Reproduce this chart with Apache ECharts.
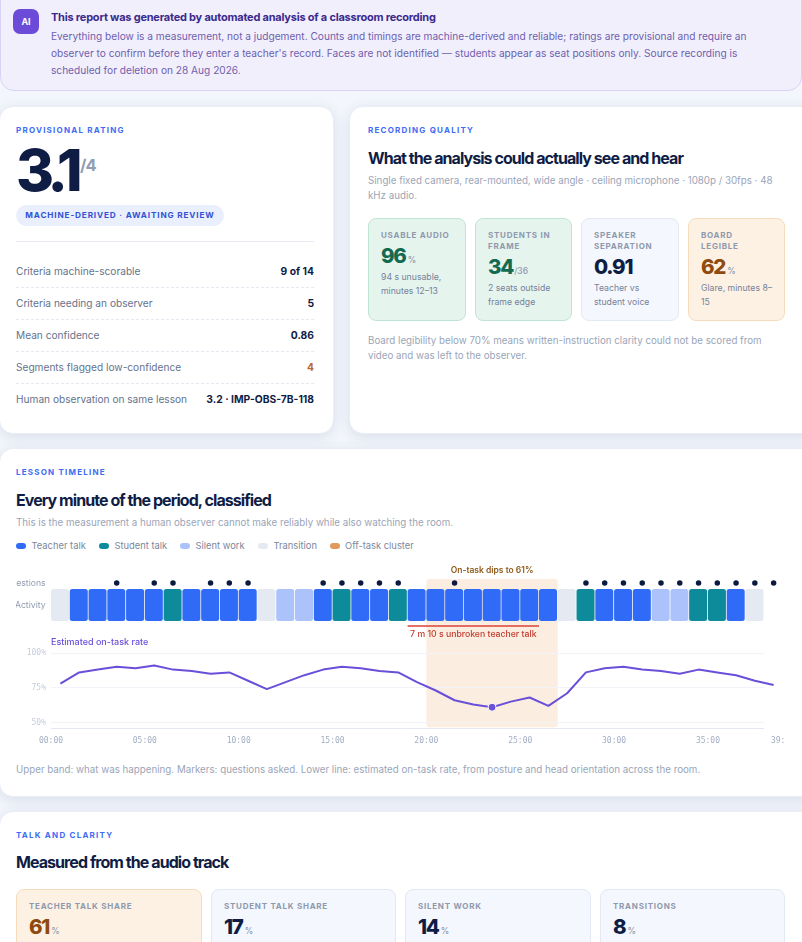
<!DOCTYPE html>
<html><head><meta charset="utf-8">
<script src="https://cdn.jsdelivr.net/npm/echarts@6/dist/echarts.min.js"></script>
<style>
html,body{margin:0;padding:0;width:802px;height:942px;overflow:hidden;background:#f3f6fc;font-family:Inter,"Noto Sans",sans-serif;color:#0f1d45}
.a{position:absolute;white-space:nowrap}
.card{position:absolute;background:#fff;border-radius:14px;box-shadow:0 3px 14px rgba(30,50,100,.12);border:1px solid #e9edf5;box-sizing:border-box}
.eyebrow{position:absolute;white-space:nowrap;font-size:8px;line-height:12px;font-weight:700;letter-spacing:1.22px;color:#3d6cf5}
.h2{position:absolute;white-space:nowrap;font-size:16px;line-height:22px;font-weight:700;letter-spacing:-.94px;color:#0f1d45}
.sub{position:absolute;font-size:9.75px;line-height:15px;color:#9aa5b8}
.row{position:absolute;left:16px;width:298px;display:flex;justify-content:space-between;font-size:10.15px;line-height:16px;color:#66738c}
.row b{color:#0f1d45;font-weight:700;font-size:10.3px}
.dash{position:absolute;left:16px;width:298px;border-top:1px dashed #e5e8f0}
.tile{position:absolute;box-sizing:border-box;border-radius:8px;border:1px solid #e3e8f5;background:#f4f7fd}
.tile.g{background:#e6f4ee;border-color:#bfe6d4}
.tile.o{background:#fdf1e4;border-color:#f6dcbc}
.tl{position:absolute;left:12px;font-size:8px;line-height:11px;font-weight:700;letter-spacing:.75px;color:#8e99ad;white-space:nowrap}
.tn{position:absolute;left:12px;white-space:nowrap;font-size:20.5px;line-height:24px;font-weight:800;letter-spacing:-1.2px;color:#0f1d45}
.tn small{font-size:8.5px;font-weight:500;color:#8e99ad;margin-left:2px;letter-spacing:0}
.ts{position:absolute;left:12px;right:6px;font-size:8.7px;line-height:14px;color:#75829a}
.lg{position:absolute;top:540px;font-size:9.35px;line-height:12px;color:#7b879d;white-space:nowrap}
.lg i{position:absolute;left:-15.5px;top:3px;width:10px;height:6px;border-radius:3px}
</style></head><body>

<div style="position:absolute;left:0;top:-20px;width:802px;height:111px;background:#f2effd;border:1px solid #d9d2f7;box-sizing:border-box;border-radius:0 0 14px 14px"></div>
<div class="a" style="left:13px;top:9px;width:26px;height:25px;border-radius:7px;background:#6c4bd8;color:#fff;font-size:9px;font-weight:700;line-height:25px;text-align:center">AI</div>
<div class="a" style="left:51px;top:10px;font-size:11px;line-height:14px;font-weight:700;letter-spacing:-.22px;color:#3a2a8c">This report was generated by automated analysis of a classroom recording</div>
<div class="a" style="left:51px;top:28.3px;font-size:10.13px;line-height:17px;color:#6e5fae">Everything below is a measurement, not a judgement. Counts and timings are machine-derived and reliable; ratings are provisional and require an<br>observer to confirm before they enter a teacher's record. Faces are not identified — students appear as seat positions only. Source recording is<br>scheduled for deletion on 28 Aug 2026.</div>

<div class="card" style="left:-1px;top:106px;width:335px;height:328px"></div>
<div class="eyebrow" style="left:16px;top:124px">PROVISIONAL RATING</div>
<div class="a" style="left:16px;top:135px;font-size:58px;line-height:70px;font-weight:800;letter-spacing:-5.5px;color:#0f1d45">3.1</div>
<div class="a" style="left:80px;top:153px;font-size:16.5px;line-height:24px;font-weight:700;letter-spacing:-1px;color:#8f9db5">/4</div>
<div class="a" style="left:16px;top:205px;width:208px;height:21px;border-radius:11px;background:#e9effd;color:#2f52d6;font-size:8.2px;font-weight:700;letter-spacing:.85px;line-height:21px;text-align:center">MACHINE-DERIVED · AWAITING REVIEW</div>
<div style="position:absolute;left:16px;width:298px;top:241px;border-top:1px solid #e8ebf3"></div>
<div class="row" style="top:263px"><span>Criteria machine-scorable</span><b>9 of 14</b></div>
<div class="dash" style="top:287px"></div>
<div class="row" style="top:295px"><span>Criteria needing an observer</span><b>5</b></div>
<div class="dash" style="top:319px"></div>
<div class="row" style="top:327px"><span>Mean confidence</span><b>0.86</b></div>
<div class="dash" style="top:351px"></div>
<div class="row" style="top:359px"><span>Segments flagged low-confidence</span><b style="color:#b9682a">4</b></div>
<div class="dash" style="top:383px"></div>
<div class="row" style="top:391px"><span>Human observation on same lesson</span><b>3.2 · IMP-OBS-7B-118</b></div>

<div class="card" style="left:348.5px;top:106px;width:470px;height:328px"></div>
<div class="eyebrow" style="left:368px;top:124px">RECORDING QUALITY</div>
<div class="h2" style="left:368px;top:146.5px">What the analysis could actually see and hear</div>
<div class="sub" style="left:368px;top:173px;width:417px">Single fixed camera, rear-mounted, wide angle · ceiling microphone · 1080p / 30fps · 48 kHz audio.</div>

<div class="tile g" style="left:368px;top:218px;width:98px;height:103px">
 <div class="tl" style="top:11px">USABLE AUDIO</div>
 <div class="tn" style="top:24.5px;color:#136a50">96<small>%</small></div>
 <div class="ts" style="top:51px">94 s unusable,<br>minutes 12–13</div>
</div>
<div class="tile g" style="left:475px;top:218px;width:97px;height:103px">
 <div class="tl" style="top:11px">STUDENTS IN<br>FRAME</div>
 <div class="tn" style="top:35.5px;color:#136a50">34<small style="margin-left:1px">/36</small></div>
 <div class="ts" style="top:62px">2 seats outside<br>frame edge</div>
</div>
<div class="tile" style="left:581px;top:218px;width:98px;height:103px">
 <div class="tl" style="top:11px">SPEAKER<br>SEPARATION</div>
 <div class="tn" style="top:35.5px">0.91</div>
 <div class="ts" style="top:62px">Teacher vs<br>student voice</div>
</div>
<div class="tile o" style="left:688px;top:218px;width:97px;height:103px">
 <div class="tl" style="top:11px">BOARD<br>LEGIBLE</div>
 <div class="tn" style="top:35.5px;color:#8f4a10">62<small>%</small></div>
 <div class="ts" style="top:62px">Glare, minutes 8–<br>15</div>
</div>
<div class="sub" style="left:368px;top:333px;width:417px">Board legibility below 70% means written-instruction clarity could not be scored from video and was left to the observer.</div>

<div class="card" style="left:-1px;top:448px;width:820px;height:349px"></div>
<div class="eyebrow" style="left:16px;top:466px">LESSON TIMELINE</div>
<div class="h2" style="left:16px;top:488.5px">Every minute of the period, classified</div>
<div class="sub" style="left:16px;top:515px;white-space:nowrap">This is the measurement a human observer cannot make reliably while also watching the room.</div>
<div class="lg" style="left:31.5px"><i style="background:#2f6bf6"></i>Teacher talk</div>
<div class="lg" style="left:114.5px"><i style="background:#0e8b9b"></i>Student talk</div>
<div class="lg" style="left:195.5px"><i style="background:#abc3fa"></i>Silent work</div>
<div class="lg" style="left:273.5px"><i style="background:#e5e9f2"></i>Transition</div>
<div class="lg" style="left:345px"><i style="background:#e09a5c"></i>Off-task cluster</div>

<div id="chart" style="position:absolute;left:16px;top:560px;width:769px;height:195px"></div>
<div class="sub" style="left:16px;top:762px;white-space:nowrap">Upper band: what was happening. Markers: questions asked. Lower line: estimated on-task rate, from posture and head orientation across the room.</div>

<div class="card" style="left:-1px;top:811px;width:820px;height:200px"></div>
<div class="eyebrow" style="left:16px;top:829px">TALK AND CLARITY</div>
<div class="h2" style="left:16px;top:851px">Measured from the audio track</div>
<div class="tile o" style="left:16px;top:889px;width:186px;height:90px"><div class="tl" style="top:11px">TEACHER TALK SHARE</div><div class="tn" style="top:25px;color:#8f4a10">61<small>%</small></div></div>
<div class="tile" style="left:211px;top:889px;width:185px;height:90px"><div class="tl" style="top:11px">STUDENT TALK SHARE</div><div class="tn" style="top:25px">17<small>%</small></div></div>
<div class="tile" style="left:405px;top:889px;width:186px;height:90px"><div class="tl" style="top:11px">SILENT WORK</div><div class="tn" style="top:25px">14<small>%</small></div></div>
<div class="tile" style="left:600px;top:889px;width:185px;height:90px"><div class="tl" style="top:11px">TRANSITIONS</div><div class="tn" style="top:25px">8<small>%</small></div></div>

<script>
const activityKinds = {T:'#2f6bf6', S:'#0e8b9b', W:'#abc3fa', X:'#e5e9f2'};
const activity = ['X','T','T','T','T','T','S','T','T','T','T','X','W','W','T','S','T','T','S','T','T','T','T','T','T','T','T','X','S','T','T','T','W','W','S','S','T','X'];
const questionMinutes = [3,5,6,8,9,10,14,15,16,17,18,21,28,29,30,31,32,33,34,35,36,37,38];
const onTaskRate = [78,86,88,90,89,91,88,87,85,86,80,74,79,84,88,90,89,87,86,79,73,66,63,61,65,68,62,71,86,89,90,88,87,85,88,86,84,80,77];
const timeTicks = [0,5,10,15,20,25,30,35,39];
const rateTicks = [50,75,100];
const gridRates = [100,75,50];
const offTaskSpan = [20,27];
const offTaskLabel = 'On-task dips to 61%';
const unbrokenSpan = [19,26];
const unbrokenLabel = '7 m 10 s unbroken teacher talk';

const LEFT=35, WIDTH=732, MAXT=39, RATE_MIN=46;
const mono='"DejaVu Sans Mono",monospace', sans='Inter,sans-serif';
const base={left:LEFT,width:WIDTH,containLabel:false,outerBoundsMode:'none'};
const grids=[
 {...base,top:19,height:148.3},
 {...base,top:18,height:10},
 {...base,top:29,height:32},
 {...base,top:92.9,height:75.2}
];
const hiddenX=i=>({type:'value',gridIndex:i,min:0,max:MAXT,show:false});
const catY=(i,name)=>({type:'category',gridIndex:i,data:[name],axisLine:{show:false},axisTick:{show:false},splitLine:{show:false},
  axisLabel:{fontFamily:sans,fontSize:8.7,color:'#929db1',margin:5.3}});
const minIdx=onTaskRate.indexOf(Math.min(...onTaskRate));
const endT=activity.length;

const chart=echarts.init(document.getElementById('chart'));
chart.setOption({
 animation:false,
 grid:grids,
 xAxis:[hiddenX(0),hiddenX(1),hiddenX(2),
  {type:'value',gridIndex:3,min:0,max:MAXT,axisLine:{show:false},axisTick:{show:false},splitLine:{show:false},
   axisLabel:{customValues:timeTicks,showMinLabel:true,showMaxLabel:true,hideOverlap:false,fontFamily:mono,fontSize:8,color:'#a3aec3',margin:9,
    formatter:v=>String(v).padStart(2,'0')+':00'}}],
 yAxis:[{type:'value',gridIndex:0,min:0,max:1,show:false},catY(1,'Questions'),catY(2,'Activity'),
  {type:'value',gridIndex:3,min:RATE_MIN,max:100,name:'Estimated on-task rate',nameLocation:'end',nameGap:6,
   nameTextStyle:{align:'left',verticalAlign:'bottom',fontFamily:sans,fontSize:9,fontWeight:500,color:'#6a4fd8'},
   axisLine:{show:false},axisTick:{show:false},splitLine:{show:false},
   axisLabel:{customValues:rateTicks,fontFamily:mono,fontSize:8,color:'#c6cddc',margin:5,padding:[2,0,0,0],formatter:v=>v+'%'}}],
 series:[
  {type:'custom',name:'Off-task cluster',xAxisIndex:0,yAxisIndex:0,z:1,silent:true,data:[offTaskSpan],
   renderItem:(p,api)=>{
    const a=api.coord([api.value(0),1]),b=api.coord([api.value(1),0]);
    return {type:'group',children:[
     {type:'rect',shape:{x:a[0],y:a[1],width:b[0]-a[0],height:b[1]-a[1],r:3},style:{fill:'#fbeee0'}},
     {type:'text',style:{text:offTaskLabel,x:(a[0]+b[0])/2,y:a[1]-8.5,align:'center',verticalAlign:'middle',font:'600 8.5px '+sans,fill:'#8f5a1a'}}
    ]};
   }},
  {type:'line',name:'Gridlines',xAxisIndex:3,yAxisIndex:3,z:2,silent:true,data:[],
   markLine:{silent:true,symbol:'none',label:{show:false},animation:false,
    lineStyle:{type:'solid',color:'#f1f3f9',width:1},
    data:gridRates.map(r=>[{xAxis:0,yAxis:r},{xAxis:endT,yAxis:r}]).concat([[{xAxis:0,yAxis:RATE_MIN,lineStyle:{color:'#e3e8f2',type:'solid',width:1}},{xAxis:endT,yAxis:RATE_MIN}]])}},
  {type:'custom',name:'Activity',xAxisIndex:2,yAxisIndex:2,z:3,silent:true,
   data:activity.map((k,i)=>[i,k]),
   renderItem:(p,api)=>{
    const i=api.value(0),x0=api.coord([i,0])[0],x1=api.coord([i+1,0])[0],cs=p.coordSys;
    return {type:'rect',shape:{x:x0,y:cs.y,width:x1-x0-0.77,height:cs.height,r:2.5},style:{fill:activityKinds[activity[i]]}};
   }},
  {type:'scatter',name:'Questions',xAxisIndex:1,yAxisIndex:1,z:4,silent:true,symbolSize:5.5,itemStyle:{color:'#0c1a40',opacity:1},
   data:questionMinutes.map(m=>[m+0.5,'Questions'])},
  {type:'custom',name:'Unbroken talk',xAxisIndex:2,yAxisIndex:2,z:4,silent:true,data:[unbrokenSpan],
   renderItem:(p,api)=>{
    const a=api.coord([api.value(0),0])[0],b=api.coord([api.value(1),0])[0],cs=p.coordSys,y=cs.y+cs.height+5;
    return {type:'group',children:[
     {type:'rect',shape:{x:a,y:y-0.75,width:b-a,height:1.5},style:{fill:'#d9423a'}},
     {type:'text',style:{text:unbrokenLabel,x:(a+b)/2,y:y+8,align:'center',verticalAlign:'middle',font:'500 8.7px '+sans,fill:'#c23a2f'}}
    ]};
   }},
  {type:'line',name:'On-task rate',xAxisIndex:3,yAxisIndex:3,z:5,silent:true,symbol:'none',clip:false,
   lineStyle:{color:'#6a4fd8',width:2},data:onTaskRate.map((v,i)=>[i+0.5,v])},
  {type:'scatter',name:'Lowest on-task',xAxisIndex:3,yAxisIndex:3,z:6,silent:true,symbolSize:8,
   itemStyle:{color:'#6a4fd8',borderColor:'#fff',borderWidth:1,opacity:1},data:[[minIdx+0.5,onTaskRate[minIdx]]]}
 ]
});
</script>
</body></html>
